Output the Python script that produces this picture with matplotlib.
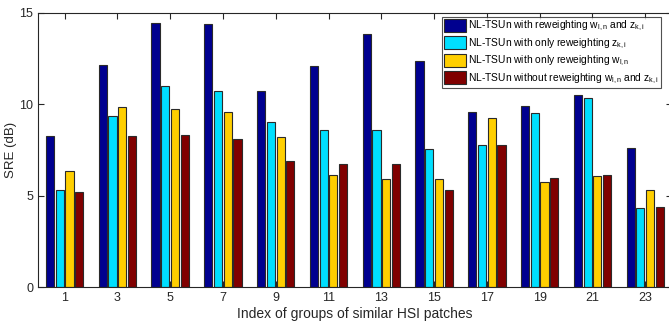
import numpy as np
import matplotlib.pyplot as plt

plt.rcParams['font.family'] = ['Liberation Sans', 'DejaVu Sans']
plt.rcParams['mathtext.fontset'] = 'custom'
plt.rcParams['mathtext.rm'] = 'Liberation Sans'
plt.rcParams['mathtext.it'] = 'Liberation Sans'

# group index (x) and SRE values for each method
groups = [1, 3, 5, 7, 9, 11, 13, 15, 17, 19, 21, 23]
sre_both = [8.26, 12.15, 14.45, 14.38, 10.73, 12.11, 13.87, 12.39, 9.58, 9.89, 10.51, 7.62]
sre_z = [5.29, 9.38, 11.00, 10.71, 9.05, 8.59, 8.59, 7.54, 7.75, 9.52, 10.33, 4.32]
sre_w = [6.33, 9.85, 9.72, 9.60, 8.23, 6.15, 5.93, 5.93, 9.27, 5.75, 6.06, 5.33]
sre_none = [5.18, 8.25, 8.30, 8.10, 6.90, 6.75, 6.71, 5.29, 7.75, 5.98, 6.11, 4.40]

labels = [r'NL-TSUn with reweighting w$_{\mathregular{l,n}}$ and z$_{\mathregular{k,i}}$',
          r'NL-TSUn with only reweighting z$_{\mathregular{k,i}}$',
          r'NL-TSUn with only reweighting w$_{\mathregular{l,n}}$',
          r'NL-TSUn without reweighting w$_{\mathregular{l,n}}$ and z$_{\mathregular{k,i}}$']
colors = ['#00008F', '#00DFFF', '#FFCF00', '#800000']

fig = plt.figure(figsize=(6.69, 3.24), dpi=100)
ax = fig.add_axes([0.057, 0.114, 0.947, 0.846])

x = np.array(groups)
pitch = 0.37
width = 0.31
series = [sre_both, sre_z, sre_w, sre_none]
for i, (vals, c, lab) in enumerate(zip(series, colors, labels)):
    ax.bar(x + (i - 1.5) * pitch, vals, width=width, color=c, edgecolor='#2a2a2a',
           linewidth=0.8, label=lab, zorder=2)

ax.set_xlim(0, 24)
ax.set_ylim(0, 15)
ax.set_xticks(groups)
ax.set_yticks([0, 5, 10, 15])
ax.tick_params(direction='in', top=True, right=True, labelsize=9, length=4,
               colors='#262626', width=0.8)
for s in ax.spines.values():
    s.set_color('#262626')
    s.set_linewidth(0.8)
ax.set_xlabel('Index of groups of similar HSI patches', fontsize=10, labelpad=2, color='#262626')
ax.set_ylabel('SRE (dB)', fontsize=9.5, color='#262626')
ax.yaxis.set_label_coords(-0.033, 0.5)

leg = ax.legend(loc='upper right', bbox_to_anchor=(0.986, 0.993), fontsize=7.4, frameon=True,
                fancybox=False, borderpad=0.2, labelspacing=0.3, handlelength=2.2,
                handleheight=1.5, handletextpad=0.15, borderaxespad=0.2)
leg.get_frame().set_edgecolor('#262626')
leg.get_frame().set_linewidth(0.8)

plt.savefig('out.png', dpi=100)
